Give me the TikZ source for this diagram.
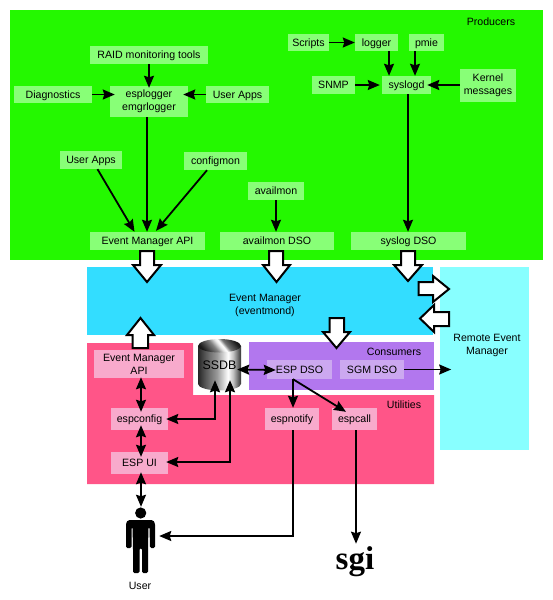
\documentclass[tikz,border=0pt]{standalone}
\usepackage{fontspec}
\setmainfont{Liberation Sans}
\newfontfamily\logofont{Liberation Serif}
\usetikzlibrary{arrows.meta,calc}
\definecolor{cgreen}{HTML}{24F800}
\definecolor{clgreen}{HTML}{88FF77}
\definecolor{ccyan}{HTML}{33DDFF}
\definecolor{cremote}{HTML}{88FFFF}
\definecolor{cpink}{HTML}{FF5588}
\definecolor{clpink}{HTML}{F8AACC}
\definecolor{cpurple}{HTML}{B277EE}
\definecolor{clpurple}{HTML}{CCA8F0}
\pgfdeclarehorizontalshading{cylbody}{100bp}{
 color(0bp)=(black!85); color(25bp)=(black!85); color(34bp)=(black!65); color(47bp)=(black!40);
 color(60bp)=(white); color(66bp)=(black!25); color(75bp)=(black!80); color(100bp)=(black!80)}
\pgfdeclarehorizontalshading{cyltop}{100bp}{
 color(0bp)=(black!90); color(25bp)=(black!90); color(42bp)=(black!50); color(50bp)=(black!10);
 color(54bp)=(white); color(60bp)=(black!55); color(75bp)=(black!90); color(100bp)=(black!90)}
\tikzset{
 x=1pt,y=-1pt,
 every node/.style={font=\fontsize{10.6}{13}\selectfont,inner sep=0pt,align=center},
 szm/.style 2 args={minimum width=#1pt,minimum height=#2pt},
 sz/.style 2 args={minimum width=#1pt,minimum height=#2pt,text height=7.6pt,text depth=0.5pt},
 gbox/.style={fill=clgreen},
 pbox/.style={fill=clpink},
 vbox/.style={fill=clpurple},
 conn/.style={line width=1.8pt,draw=black,-{Stealth[length=12pt,width=10pt,inset=1.5pt]}},
 bconn/.style={line width=1.8pt,draw=black,{Stealth[length=12pt,width=10pt,inset=1.5pt]}-{Stealth[length=12pt,width=10pt,inset=1.5pt]}},
 block/.style={draw=black,line width=2pt,fill=white,miter limit=10},
}
\begin{document}
\begin{tikzpicture}
\useasboundingbox (0,0) rectangle (553,600);
% regions
\fill[cgreen] (10,10) rectangle (543,260);
\fill[ccyan] (87,267) rectangle (433,335);
\fill[cremote] (440,267) rectangle (529,450);
\fill[cpink] (87,343) -- (193,343) -- (193,395) -- (434,395) -- (434,484) -- (87,484) -- cycle;
\fill[cpurple] (249,342) rectangle (434,390);
\node (lprod) at (491,22) {Producers};
\node (lem) at (265,305) {Event Manager\\(eventmond)};
\node (lcons) at (394,352) {Consumers};
\node (lutil) at (404,405) {Utilities};
\node (lrem) at (487,345.5) {Remote Event\\Manager};
% green boxes
\node[gbox,sz={118}{18}] (raid) at (149,55) {RAID monitoring tools};
\node[gbox,sz={78}{17}] (diag) at (53,94.5) {Diagnostics};
\node[gbox,szm={78}{31}] (esp) at (149,101.5) {esplogger\\emgrlogger};
\node[gbox,sz={63}{17}] (uapps) at (237.5,94.5) {User Apps};
\node[gbox,sz={62}{18}] (uappsb) at (91,160) {User Apps};
\node[gbox,sz={63}{18}] (cfgm) at (215.5,161) {configmon};
\node[gbox,sz={56}{18}] (avail) at (276,191) {availmon};
\node[gbox,sz={115}{18}] (api) at (147.5,241) {Event Manager API};
\node[gbox,sz={114}{18}] (adso) at (277,241) {availmon DSO};
\node[gbox,sz={115}{18}] (sdso) at (408.5,241) {syslog DSO};
\node[gbox,sz={41}{17}] (scr) at (308.5,42.5) {Scripts};
\node[gbox,sz={43}{17}] (logg) at (376.5,42.5) {logger};
\node[gbox,sz={35}{17}] (pmie) at (426.5,42.5) {pmie};
\node[gbox,sz={43}{18}] (snmp) at (333.5,85) {SNMP};
\node[gbox,sz={49}{18}] (sysd) at (406.5,85) {syslogd};
\node[gbox,szm={56}{33}] (kern) at (488,85.5) {Kernel\\messages};
% pink boxes
\node[pbox,szm={90}{28}] (eapi) at (139,364) {Event Manager\\API};
\node[pbox,sz={57}{22}] (ecfg) at (139.5,419) {espconfig};
\node[pbox,sz={57}{22}] (eui) at (139.5,463) {ESP UI};
\node[pbox,sz={54}{22}] (enot) at (292,419) {espnotify};
\node[pbox,sz={45}{22}] (ecall) at (354.5,419) {espcall};
% purple boxes
\node[vbox,sz={65}{19}] (edso) at (299.5,369.5) {ESP DSO};
\node[vbox,sz={64}{19}] (sgm) at (372,369.5) {SGM DSO};
% cylinder
\path[shading=cylbody] (198,346) -- (198,384) .. controls (198,387.5) and (208,390.5) .. (219.5,390.5) .. controls (231,390.5) and (241,387.5) .. (241,384) -- (241,346) -- cycle;
\path[shading=cyltop,shading angle=40] (198,346) .. controls (198,342) and (208,339) .. (219.5,339) .. controls (231,339) and (241,342) .. (241,346) .. controls (241,349.5) and (231,352.5) .. (219.5,352.5) .. controls (208,352.5) and (198,349.5) .. (198,346) -- cycle;
\node[szm={43}{51},font=\fontsize{12.4}{14}\selectfont] (ssdb) at (219.5,365) {SSDB};
% person
\node[szm={37}{67}] (user) at (140.5,540.5) {};
\fill (140.7,513) circle[radius=5.6];
\fill[rounded corners=1.5pt] (128,520) -- (153,520) -- (155,523) -- (155,548) -- (150,548) -- (149.5,527) -- (148.5,527) -- (148,548) -- (148,573) -- (142,573) -- (142,548) -- (139.5,548) -- (139.5,573) -- (133,573) -- (133,548) -- (132.5,527) -- (131.5,527) -- (131.5,548) -- (126,548) -- (126,523) -- cycle;
\node (luser) at (140,586) {User};
\node[font=\fontsize{33}{33}\selectfont\logofont\bfseries] (sgi) at (355,562) {sgi};
% connectors
\draw[conn] (raid.south) -- ($(esp.north)+(0,2)$);
\draw[conn] (diag.east) -- ($(esp.west)+(5,-7)$);
\draw[conn] (uapps.west) -- ($(esp.east)+(-5,-7)$);
\draw[conn] ($(esp.south)+(-2,0)$) -- ($(api.north)+(-0.5,0)$);
\draw[conn] ($(uappsb.south)+(6.5,0)$) -- ($(api.north)+(-13,0)$);
\draw[conn] ($(cfgm.south)+(-8.5,0)$) -- ($(api.north)+(8.5,-1)$);
\draw[conn] (avail.south) -- (avail.south |- adso.north);
\draw[conn] (scr.east) -- (logg.west);
\draw[conn] ($(logg.south)+(12.5,0)$) -- ($(sysd.north)+(-17.5,0)$);
\draw[conn] ($(pmie.south)+(-11.5,0)$) -- ($(sysd.north)+(8.5,0)$);
\draw[conn] (snmp.east) -- ($(sysd.west)+(-2,0)$);
\draw[conn] (kern.west |- sysd) -- ($(sysd.east)+(-4,0)$);
\draw[conn] ($(sysd.south)+(1.5,0)$) -- ($(sdso.north)+(-0.5,0)$);
\draw[bconn] ($(eapi.south)+(2,-1)$) -- ($(ecfg.north)+(1.5,4)$);
\draw[bconn] ($(ecfg.south)+(1.5,-5)$) -- ($(eui.north)+(1.5,5)$);
\draw[bconn] ($(eui.south)+(1.5,-2)$) -- ($(user.north)+(0.5,0)$);
\draw[bconn] ($(ecfg.east)+(-2,0)$) -| ($(ssdb.south)+(-4.5,-10.5)$);
\draw[bconn] ($(eui.east)+(-2,-1)$) -| ($(ssdb.south)+(10.5,-10.5)$);
\draw[bconn] ($(ssdb.east)+(-4,4.5)$) -- ($(edso.west)+(9,0.5)$);
\draw[conn] ($(edso.south)+(-6.5,0)$) -- ($(enot.north)+(1,0)$);
\draw[conn] ($(edso.south)+(-6.5,0)$) -- ($(ecall.north)+(-8.5,4)$);
\draw[conn] ($(enot.south)+(1,0)$) |- ($(user.east)+(0,-4.5)$);
\draw[conn] ($(ecall.south)+(1.5,0)$) -- ($(sgi.north)+(1,-3)$);
\draw[conn] (sgm.east) -- ($(sgm.east)+(47,0)$);
% block arrows
\draw[block] (140,251) -- (154,251) -- (154,265) -- (161,265) -- (147,282) -- (133,265) -- (140,265) -- cycle;
\draw[block] (269,251) -- (283,251) -- (283,265) -- (290,265) -- (276.5,282) -- (263,265) -- (269,265) -- cycle;
\draw[block] (401,251) -- (415,251) -- (415,265) -- (422,265) -- (408,281) -- (394,265) -- (401,265) -- cycle;
\draw[block] (329.5,318) -- (344,318) -- (344,332) -- (350,332) -- (336.5,348) -- (323,332) -- (329.5,332) -- cycle;
\draw[block] (140.5,318) -- (154,335) -- (148,335) -- (148,348) -- (132.5,348) -- (132.5,335) -- (127,335) -- cycle;
\draw[block] (418.5,282) -- (433,282) -- (433,276) -- (449,289) -- (433,302) -- (433,295) -- (418.5,295) -- cycle;
\draw[block] (449,312) -- (434,312) -- (434,305) -- (420,318.5) -- (434,332) -- (434,326) -- (449,326) -- cycle;
\end{tikzpicture}
\end{document}
